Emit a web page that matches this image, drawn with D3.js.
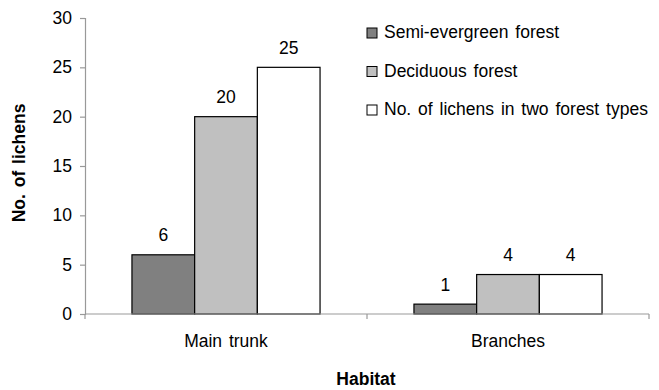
<!DOCTYPE html>
<html>
<head>
<meta charset="utf-8">
<script src="https://cdn.jsdelivr.net/npm/d3@7"></script>
<style>
  body { margin: 0; background: #fff; }
  svg { display: block; font-family: "Liberation Sans", Arial, sans-serif; }
</style>
</head>
<body>
<svg id="chart" width="659" height="390"></svg>
<script>
// Lichen counts per habitat and forest type
const habitats = ["Main trunk", "Branches"];
const seriesNames = ["Semi-evergreen forest", "Deciduous forest", "No. of lichens in two forest types"];
const semiEvergreen = [6, 1];
const deciduous = [20, 4];
const totalLichens = [25, 4];
const yTicks = [0, 5, 10, 15, 20, 25, 30];
const seriesColors = ["#808080", "#c0c0c0", "#ffffff"];

const seriesValues = [semiEvergreen, deciduous, totalLichens];

const svg = d3.select("#chart");
const margin = { left: 85, top: 18 };
const plotW = 564, plotH = 296;

const g = svg.append("g").attr("transform", `translate(${margin.left},${margin.top})`);

const x0 = d3.scaleBand().domain(habitats).range([0, plotW]).paddingInner(0).paddingOuter(0);
const groupW = x0.bandwidth() * 0.667;
const x1 = d3.scaleBand().domain(d3.range(seriesNames.length)).range([0, groupW]);
const y = d3.scaleLinear().domain([0, 30]).range([plotH, 0]);

// Bars with value labels
habitats.forEach((h, i) => {
  const gx = x0(h) + (x0.bandwidth() - groupW) / 2;
  seriesValues.forEach((vals, s) => {
    const v = vals[i];
    g.append("rect")
      .attr("x", gx + x1(s))
      .attr("y", y(v))
      .attr("width", x1.bandwidth())
      .attr("height", y(0) - y(v))
      .attr("fill", seriesColors[s])
      .attr("stroke", "#000")
      .attr("stroke-width", 1.2);
    g.append("text")
      .attr("x", gx + x1(s) + x1.bandwidth() / 2)
      .attr("y", y(v) - 13.5)
      .attr("text-anchor", "middle")
      .attr("font-size", 17.5)
      .attr("fill", "#000")
      .text(v);
  });
});

// Y axis
const yAxis = g.append("g").call(d3.axisLeft(y).tickValues(yTicks).tickSize(5).tickPadding(8));
yAxis.selectAll("path, line").attr("stroke", "#999").attr("stroke-width", 1.2);
yAxis.selectAll("text").attr("font-size", 17.5).attr("fill", "#000").attr("font-family", "Liberation Sans, Arial, sans-serif");

// X axis with ticks on band boundaries
const xAxisG = g.append("g").attr("transform", `translate(0,${plotH})`);
xAxisG.append("line").attr("x1", 0).attr("x2", plotW).attr("y1", 0).attr("y2", 0)
  .attr("stroke", "#999").attr("stroke-width", 1.2);
const boundaries = habitats.map(h => x0(h)).concat([plotW]);
xAxisG.selectAll("line.tick").data(boundaries).enter().append("line")
  .attr("class", "tick")
  .attr("x1", d => d).attr("x2", d => d).attr("y1", 0).attr("y2", 5)
  .attr("stroke", "#999").attr("stroke-width", 1.2);
xAxisG.selectAll("text.cat").data(habitats).enter().append("text")
  .attr("class", "cat")
  .attr("x", d => x0(d) + x0.bandwidth() / 2)
  .attr("y", 33)
  .attr("text-anchor", "middle")
  .attr("font-size", 17.5)
  .attr("word-spacing", 2)
  .text(d => d);

// Axis titles
svg.append("text")
  .attr("x", 366).attr("y", 385)
  .attr("text-anchor", "middle")
  .attr("font-size", 17.5).attr("font-weight", "bold")
  .text("Habitat");
svg.append("text")
  .attr("transform", "translate(25,163) rotate(-90)")
  .attr("text-anchor", "middle")
  .attr("font-size", 17.5).attr("font-weight", "bold")
  .attr("word-spacing", 2)
  .text("No. of lichens");

// Legend
const legend = svg.append("g").attr("transform", "translate(367,38)");
seriesNames.forEach((name, s) => {
  const row = legend.append("g").attr("transform", `translate(0,${s * 38.5})`);
  row.append("rect").attr("x", 0).attr("y", -10).attr("width", 10).attr("height", 10)
    .attr("fill", seriesColors[s]).attr("stroke", "#000").attr("stroke-width", 1);
  row.append("text").attr("x", 17).attr("y", 0).attr("font-size", 17.5)
    .attr("word-spacing", 2).text(name);
});
</script>
</body>
</html>
